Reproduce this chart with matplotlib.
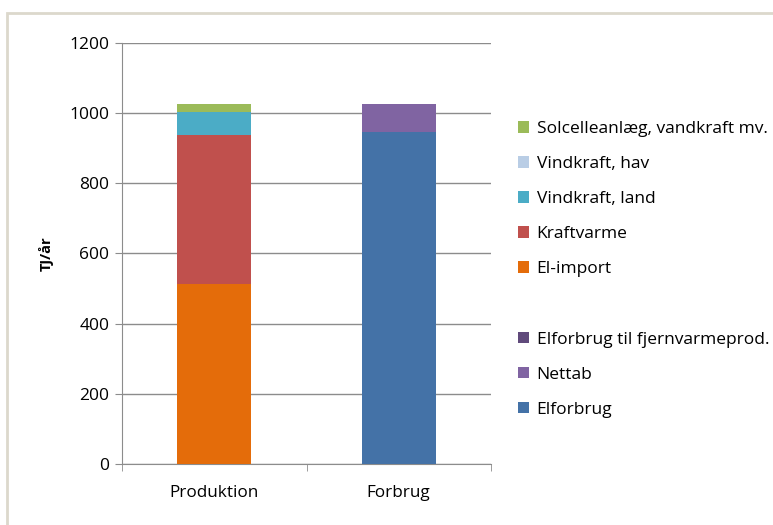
import matplotlib
matplotlib.use("Agg")
import matplotlib.pyplot as plt
from matplotlib.patches import Patch, Rectangle
import numpy as np

categories = ["Produktion", "Forbrug"]
series_names = ["El-import", "Kraftvarme", "Vindkraft, land", "Vindkraft, hav",
                "Solcelleanlæg, vandkraft mv.", "Elforbrug", "Nettab",
                "Elforbrug til fjernvarmeprod."]
series_values = [
    [512, 0],
    [427, 0],
    [65, 0],
    [0, 0],
    [22, 0],
    [0, 947],
    [0, 79],
    [0, 0],
]
series_colors = ["#E46C0A", "#C0504D", "#4BACC6", "#B9CDE5", "#9BBB59",
                 "#4472A7", "#8064A2", "#604A7B"]
yticks = [0, 200, 400, 600, 800, 1000, 1200]

plt.rcParams['font.family'] = ['Open Sans', 'DejaVu Sans']

fig = plt.figure(figsize=(7.73, 5.25), dpi=100)
W, H = 773, 525
ax = fig.add_axes([122 / W, 1 - 463.8 / H, (491 - 122) / W, (463.8 - 43) / H])

x = np.arange(len(categories))
bottom = np.zeros(len(categories))
for name, vals, col in zip(series_names, series_values, series_colors):
    v = np.array(vals, dtype=float)
    ax.bar(x, v, width=0.4, bottom=bottom, color=col, zorder=3)
    bottom += v

ax.set_xlim(-0.5, 1.5)
ax.set_ylim(0, 1200)
ax.set_yticks(yticks)
ax.set_yticklabels([str(t) for t in yticks], fontsize=12.5)
ax.yaxis.grid(True, color="#8c8c8c", linewidth=1, zorder=0)
ax.set_xticks(x)
ax.set_xticklabels(categories, fontsize=12.3)
ax.tick_params(axis='x', length=0, pad=15)
ax.set_xticks([-0.5, 0.5, 1.5], minor=True)
ax.tick_params(axis='x', which='minor', length=5, color="#8c8c8c", direction='out')
ax.tick_params(axis='y', length=5, color="#8c8c8c", direction='out', pad=4)
for s in ["top", "right"]:
    ax.spines[s].set_visible(False)
for s in ["left", "bottom"]:
    ax.spines[s].set_color("#8c8c8c")
ax.set_ylabel("TJ/år", fontsize=10.5, fontweight='bold', labelpad=11)

order = [4, 3, 2, 1, 0, None, 7, 6, 5]
handles, labels = [], []
for i in order:
    if i is None:
        handles.append(Patch(facecolor='none', edgecolor='none'))
        labels.append(" ")
    else:
        handles.append(Patch(facecolor=series_colors[i], edgecolor='none'))
        labels.append(series_names[i])
fig.legend(handles, labels, loc='upper left', bbox_to_anchor=(511 / W, 1 - 114 / H),
           frameon=False, fontsize=12.5, handlelength=0.65, handleheight=0.65,
           handletextpad=0.42, labelspacing=1.1, borderaxespad=0)

# outer chart border
fig.patches.append(Rectangle((7 / W, -0.1), 1.2, 1 - 13 / H + 0.1, transform=fig.transFigure,
                             fill=False, edgecolor="#dcd8cc", linewidth=2))

fig.savefig("out.png", dpi=100)
